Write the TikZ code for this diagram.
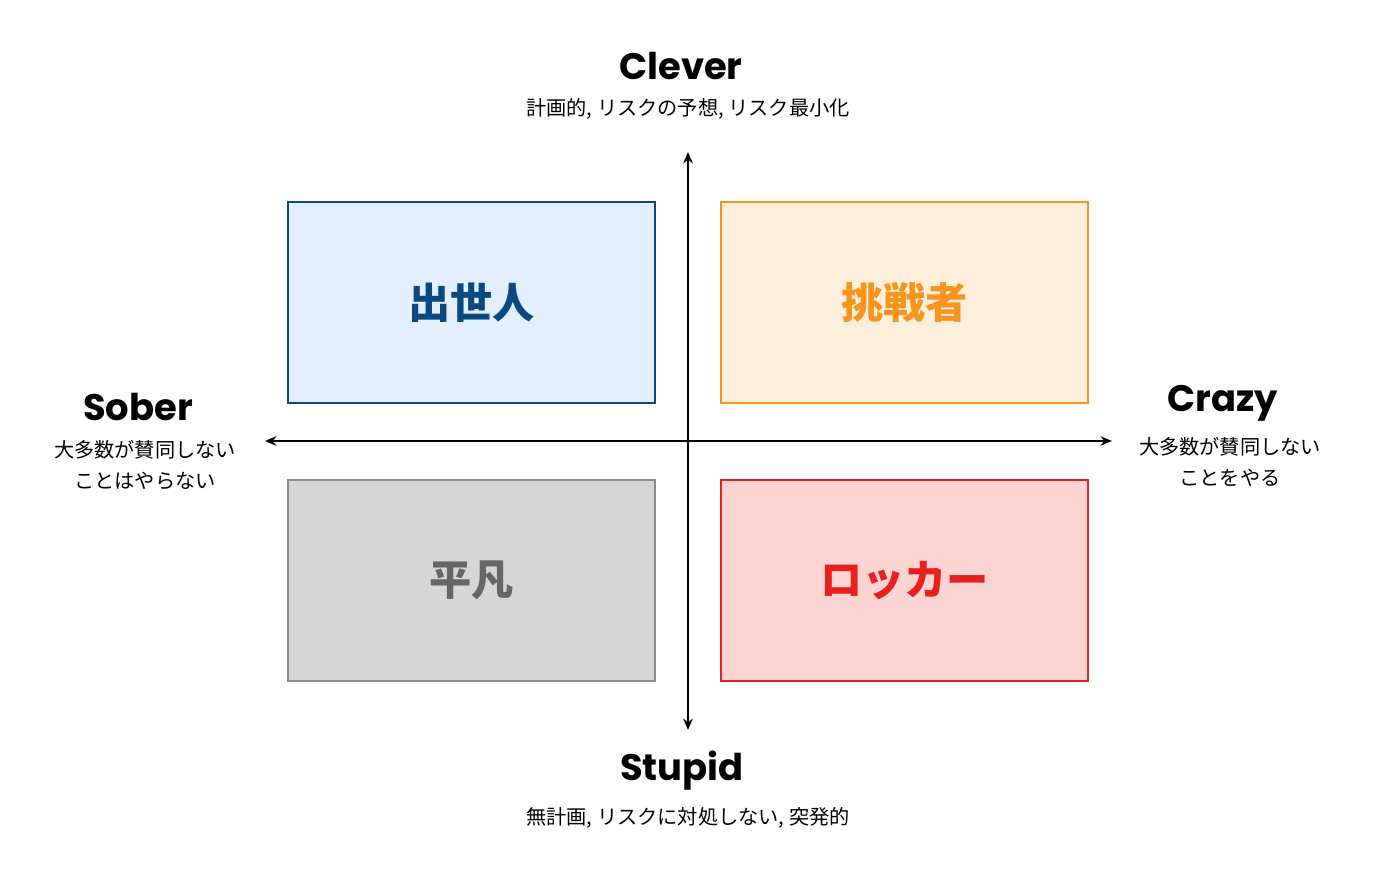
\documentclass[tikz,border=0pt]{standalone}
\usepackage{fontspec}
\setmainfont{Poppins}
\newfontfamily\jp{Noto Sans CJK JP}
\usetikzlibrary{arrows.meta, positioning}
\definecolor{blueline}{HTML}{0B4A80}
\definecolor{bluefill}{HTML}{E3EFFD}
\definecolor{orangeline}{HTML}{F7941D}
\definecolor{orangefill}{HTML}{FEEEDC}
\definecolor{grayline}{HTML}{8C8C8C}
\definecolor{grayfill}{HTML}{D6D6D6}
\definecolor{graytext}{HTML}{666666}
\definecolor{redline}{HTML}{E8201F}
\definecolor{redfill}{HTML}{FCD5D3}

\begin{document}
\begin{tikzpicture}[x=0.02cm, y=-0.02cm,
    quad/.style={draw, line width=1.1pt, minimum width=367*0.02cm, minimum height=201*0.02cm, inner sep=0pt, font=\jp\bfseries\fontsize{24}{28}\selectfont},
    axis/.style={line width=1.1pt, {Stealth[length=6.5pt,width=5.5pt]}-{Stealth[length=6.5pt,width=5.5pt]}},
    pole/.style={font=\bfseries\fontsize{21}{25}\selectfont},
    note/.style={font=\jp\fontsize{11.5}{17.5}\selectfont, align=center}]
\useasboundingbox (0,0) rectangle (1400,884);
    \node[quad, draw=blueline, fill=bluefill, text=blueline] (rise) at (471.5,302.5) {出世人};
    \node[quad, draw=orangeline, fill=orangefill, text=orangeline] (challenger) at (904.5,302.5) {挑戦者};
    \node[quad, draw=grayline, fill=grayfill, text=graytext] (plain) at (471.5,580.5) {平凡};
    \node[quad, draw=redline, fill=redfill, text=redline] (rocker) at (904.5,580.5) {ロッカー};
\coordinate (top) at (688,152);
\coordinate (bottom) at (688,730);
\coordinate (left) at (265,441);
\coordinate (right) at (1112,441);
\draw[axis] (bottom) -- (top);
\draw[axis] (left) -- (right);
    \node[pole] (clever) at (681,66) {Clever};
    \node[note] (cleverdesc) at (688,109) {計画的, リスクの予想, リスク最小化};
    \node[pole] (stupid) at (682,771) {Stupid};
    \node[note] (stupiddesc) at (688,818) {無計画, リスクに対処しない, 突発的};
    \node[pole] (sober) at (138,407) {Sober};
    \node[note] (soberdesc) at (145,465) {大多数が賛同しない\\ことはやらない};
    \node[pole] (crazy) at (1223,403) {Crazy};
    \node[note] (crazydesc) at (1230,462) {大多数が賛同しない\\ことをやる};
\end{tikzpicture}
\end{document}
